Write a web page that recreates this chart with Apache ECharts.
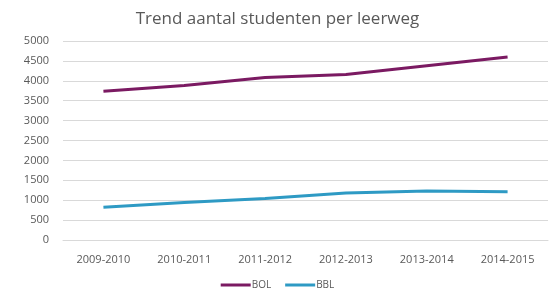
<!DOCTYPE html>
<html><head><meta charset="utf-8">
<script src="https://cdn.jsdelivr.net/npm/echarts@6/dist/echarts.min.js"></script>
<style>html,body{margin:0;padding:0;background:#fff}#c{width:555px;height:292px}</style>
</head><body><div id="c"></div>
<script>
const categories = ['2009-2010','2010-2011','2011-2012','2012-2013','2013-2014','2014-2015'];
const bol = [3740, 3880, 4080, 4160, 4380, 4600];
const bbl = [820, 940, 1040, 1180, 1230, 1210];
const chart = echarts.init(document.getElementById('c'));
chart.setOption({
  animation: false,
  textStyle: { fontFamily: 'Open Sans, Noto Sans, sans-serif' },
  title: { text: 'Trend aantal studenten per leerweg', left: 'center', top: 6,
    textStyle: { fontSize: 17, fontWeight: 'normal', color: '#595959', fontFamily: 'Open Sans, Noto Sans, sans-serif' } },
  legend: { bottom: -3, left: 'center', itemWidth: 30, itemHeight: 3, itemGap: 14, icon: 'rect',
    textStyle: { fontSize: 10, color: '#595959', padding: [0,0,0,-4] },
    data: ['BOL','BBL'] },
  grid: { left: 63, right: 7, top: 41, bottom: 52 },
  xAxis: { type: 'category', data: categories, boundaryGap: true,
    axisLine: { lineStyle: { color: '#d9d9d9' } }, axisTick: { show: false },
    axisLabel: { color: '#595959', fontSize: 11, margin: 14 } },
  yAxis: { type: 'value', min: 0, max: 5000, interval: 500,
    axisLine: { show: false }, axisTick: { show: false },
    splitLine: { lineStyle: { color: '#d9d9d9' } },
    axisLabel: { color: '#595959', fontSize: 11, margin: 14, formatter: v => String(v) } },
  series: [
    { name: 'BOL', type: 'line', data: bol, symbol: 'none', color: '#7B1A62', lineStyle: { width: 3, color: '#7B1A62' } },
    { name: 'BBL', type: 'line', data: bbl, symbol: 'none', color: '#2E9AC4', lineStyle: { width: 3, color: '#2E9AC4' } }
  ]
});
</script></body></html>
